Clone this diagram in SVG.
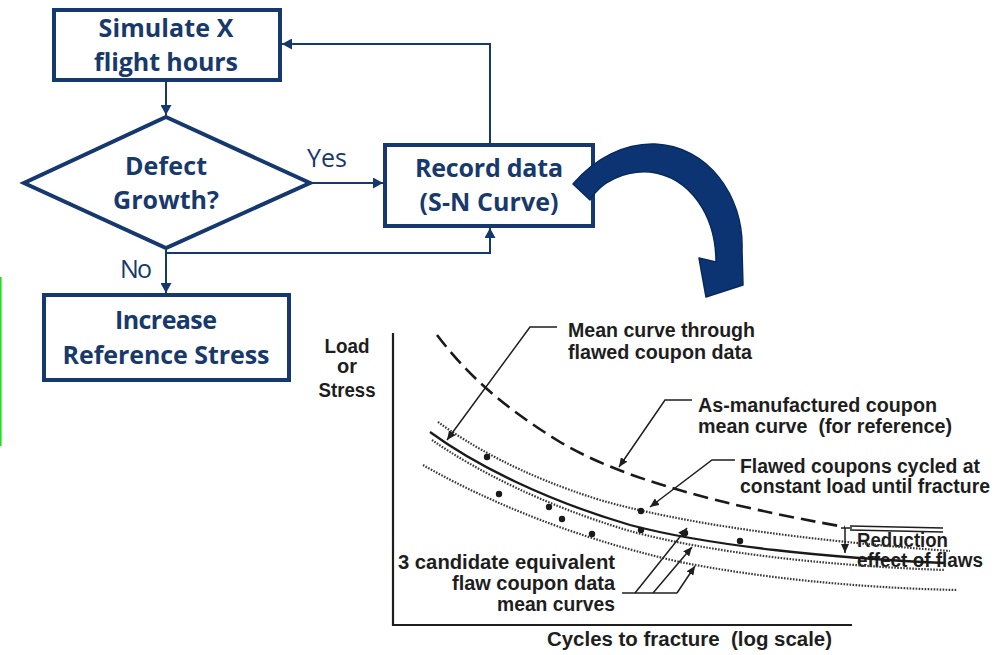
<svg xmlns="http://www.w3.org/2000/svg" width="1004" height="655" viewBox="0 0 1004 655">
<style>
  .box { fill: #ffffff; stroke: #15386f; stroke-width: 4; }
  .lbl { font-family: "Open Sans", "Liberation Sans", sans-serif; font-weight: 700; font-size: 25px; fill: #18396c; text-anchor: middle; }
  .lbln { font-family: "Open Sans", "Liberation Sans", sans-serif; font-weight: 400; font-size: 25px; fill: #18396c; }
  .con { fill: none; stroke: #15386f; stroke-width: 2; }
  .ct { font-family: "Liberation Sans", Arial, sans-serif; font-weight: 700; font-size: 20px; fill: #1e1e1e; }
  .ax { fill: none; stroke: #1e1e1e; stroke-width: 2.2; }
  .ld { fill: none; stroke: #1e1e1e; stroke-width: 1.5; }
  .dot { fill: none; stroke: #3a3a3a; stroke-width: 2.2; stroke-dasharray: 1.6 1.4; }
  .sol { fill: none; stroke: #1a1a1a; stroke-width: 2.3; }
  .dsh { fill: none; stroke: #1a1a1a; stroke-width: 2.6; stroke-dasharray: 15 7; }
  .pt { fill: #1a1a1a; }
</style>
<defs>
  <marker id="ah" markerUnits="userSpaceOnUse" markerWidth="11" markerHeight="11" refX="10" refY="5.5" orient="auto">
    <path d="M0,0 L10,5.5 L0,11 Z" fill="#15386f"/>
  </marker>
  <marker id="ak" markerUnits="userSpaceOnUse" markerWidth="9" markerHeight="8" refX="9" refY="4" orient="auto">
    <path d="M0,0 L9,4 L0,8 Z" fill="#1e1e1e"/>
  </marker>
</defs>
<rect width="1004" height="655" fill="#ffffff"/>
<rect x="0" y="277" width="1.6" height="169" fill="#1ee01e"/>

<g id="connectors">
  <path class="con" d="M166,82 V115" marker-end="url(#ah)"/>
  <path class="con" d="M312,183 H383" marker-end="url(#ah)"/>
  <path class="con" d="M166,250 V293" marker-end="url(#ah)"/>
  <path class="con" d="M166,253 H490 V228" marker-end="url(#ah)"/>
  <path class="con" d="M490,143 V44 H282" marker-end="url(#ah)"/>
  <text class="lbln" x="307" y="167" textLength="40">Yes</text>
  <text class="lbln" x="120" y="278" textLength="32">No</text>
</g>

<g id="simulate">
  <rect class="box" x="54" y="10" width="226" height="70"/>
  <text class="lbl" x="166" y="37" textLength="135">Simulate X</text>
  <text class="lbl" x="166" y="71" textLength="144">flight hours</text>
</g>

<g id="defect">
  <polygon class="box" points="166,117 310,183 166,248 24,183" stroke-width="4.5" stroke-linejoin="miter"/>
  <text class="lbl" x="166" y="175" textLength="82">Defect</text>
  <text class="lbl" x="166" y="209" textLength="106">Growth?</text>
</g>

<g id="record">
  <rect class="box" x="385" y="145" width="208" height="81"/>
  <text class="lbl" x="489" y="177" textLength="148">Record data</text>
  <text class="lbl" x="489" y="211" textLength="139">(S-N Curve)</text>
</g>

<g id="increase">
  <rect class="box" x="44" y="295" width="245" height="85"/>
  <text class="lbl" x="166" y="329" textLength="102">Increase</text>
  <text class="lbl" x="166" y="364" textLength="207">Reference Stress</text>
</g>

<g id="transition-arrow">
  <path d="M573,184 C595,158 625,143 655,144 C707,146 744,195 742,250 L743,285 L706,297 L699,258 L716,262 C716,215 690,177 650,172 C625,170 600,182 590,200 Z" fill="#0d3472" stroke="#072a5e" stroke-width="1.5" stroke-linejoin="round"/>
</g>

<g id="sn-chart">
  <path class="ax" d="M393,333 V625 H852"/>
  <text class="ct" x="347" y="353" text-anchor="middle" textLength="45" lengthAdjust="spacingAndGlyphs">Load</text>
  <text class="ct" x="347" y="373" text-anchor="middle">or</text>
  <text class="ct" x="347" y="397" text-anchor="middle" textLength="57" lengthAdjust="spacingAndGlyphs">Stress</text>

  <text class="ct" x="568" y="337" textLength="187" lengthAdjust="spacingAndGlyphs">Mean curve through</text>
  <text class="ct" x="568" y="359" textLength="184" lengthAdjust="spacingAndGlyphs">flawed coupon data</text>
  <text class="ct" x="698" y="412" textLength="239" lengthAdjust="spacingAndGlyphs">As-manufactured coupon</text>
  <text class="ct" x="698" y="433" textLength="254" lengthAdjust="spacingAndGlyphs" xml:space="preserve">mean curve  (for reference)</text>
  <text class="ct" x="740" y="473" textLength="240" lengthAdjust="spacingAndGlyphs">Flawed coupons cycled at</text>
  <text class="ct" x="740" y="493" textLength="250" lengthAdjust="spacingAndGlyphs">constant load until fracture</text>
  <text class="ct" x="857" y="547" textLength="91" lengthAdjust="spacingAndGlyphs">Reduction</text>
  <text class="ct" x="857" y="567" textLength="126" lengthAdjust="spacingAndGlyphs">effect of flaws</text>
  <text class="ct" x="615" y="569" text-anchor="end" textLength="217" lengthAdjust="spacingAndGlyphs">3 candidate equivalent</text>
  <text class="ct" x="615" y="590" text-anchor="end" textLength="163" lengthAdjust="spacingAndGlyphs">flaw coupon data</text>
  <text class="ct" x="615" y="611" text-anchor="end" textLength="118" lengthAdjust="spacingAndGlyphs">mean curves</text>
  <text class="ct" x="547" y="646" textLength="285" lengthAdjust="spacingAndGlyphs" xml:space="preserve">Cycles to fracture  (log scale)</text>

  <path class="dsh" d="M437,335 C465,372 500,405 560,442 C620,478 720,505 845,527"/>
  <path class="ld" d="M850,526 L943,528 M850,530 L943,532" stroke-width="1.2"/>
  <path class="dot" d="M438,422 C470,445 520,475 600,500 C680,523 800,540 950,551"/>
  <path class="sol" d="M430,432 C475,465 545,500 630,525 C710,546 830,558 945,563"/>
  <path class="dot" d="M432,440 C475,470 545,506 630,531 C710,553 830,566 945,570"/>
  <path class="dot" d="M423,465 C470,492 560,535 680,562 C760,578 860,588 957,590"/>

  <circle class="pt" cx="487" cy="457" r="3.2"/>
  <circle class="pt" cx="499" cy="494" r="3.2"/>
  <circle class="pt" cx="549" cy="507" r="3.2"/>
  <circle class="pt" cx="562" cy="519" r="3.2"/>
  <circle class="pt" cx="592" cy="534" r="3.2"/>
  <circle class="pt" cx="641" cy="511" r="3.2"/>
  <circle class="pt" cx="641" cy="530" r="3.2"/>
  <circle class="pt" cx="685" cy="533" r="3.2"/>
  <circle class="pt" cx="740" cy="541" r="3.2"/>

  <path class="ld" d="M557,327 H530 L447,440" marker-end="url(#ak)"/>
  <path class="ld" d="M692,400 H665 L619,467" marker-end="url(#ak)"/>
  <path class="ld" d="M735,460 H712 L650,507" marker-end="url(#ak)"/>
  <path class="ld" d="M622,593 H677"/>
  <path class="ld" d="M635,593 L687,528" marker-end="url(#ak)"/>
  <path class="ld" d="M653,593 L692,547" marker-end="url(#ak)"/>
  <path class="ld" d="M677,593 L695,566" marker-end="url(#ak)"/>
  <path class="ld" d="M841,528 H852 M845,528 V553" marker-end="url(#ak)"/>
</g>
</svg>
